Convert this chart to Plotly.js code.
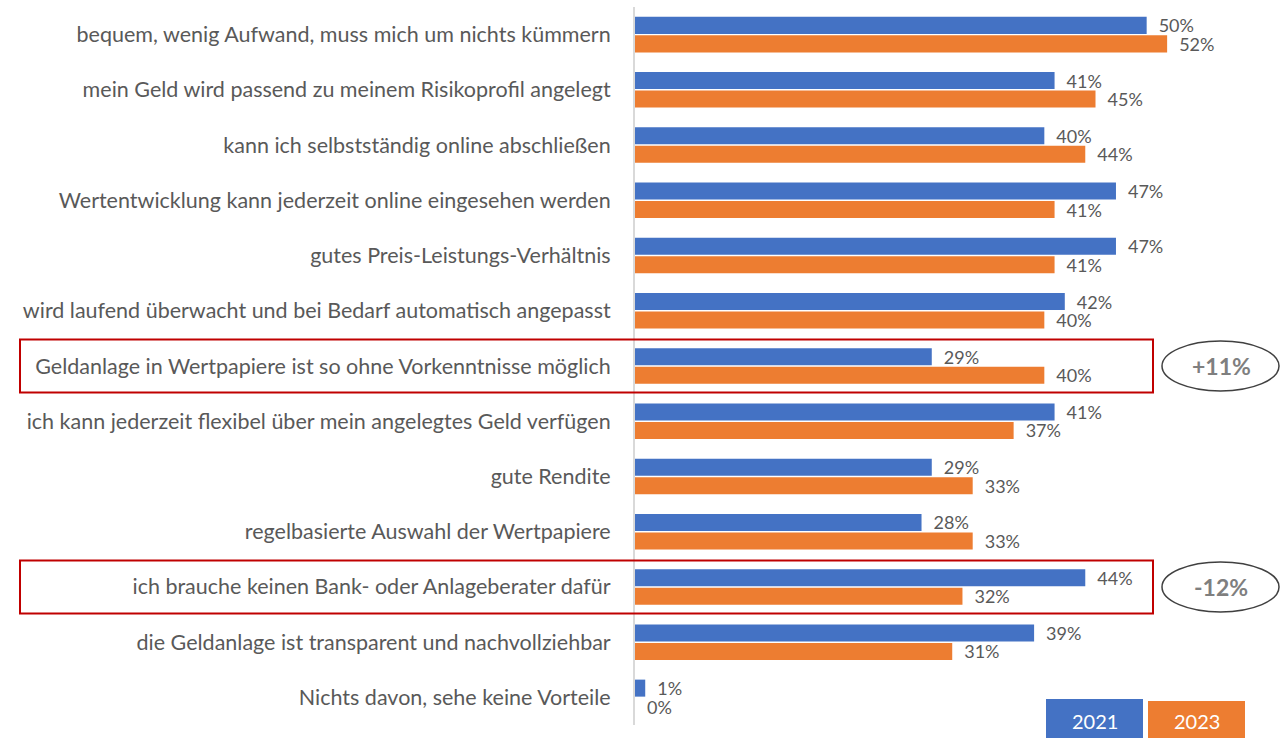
<!DOCTYPE html>
<html><head><meta charset="utf-8">
<script src="https://cdn.plot.ly/plotly-3.0.1.min.js"></script>
<style>html,body{margin:0;padding:0;background:#fff}#chart{width:1281px;height:738px}</style>
</head><body><div id="chart"></div>
<script>
const categories = [
  "bequem, wenig Aufwand, muss mich um nichts kümmern",
  "mein Geld wird passend zu meinem Risikoprofil angelegt",
  "kann ich selbstständig online abschließen",
  "Wertentwicklung kann jederzeit online eingesehen werden",
  "gutes Preis-Leistungs-Verhältnis",
  "wird laufend überwacht und bei Bedarf automatisch angepasst",
  "Geldanlage in Wertpapiere ist so ohne Vorkenntnisse möglich",
  "ich kann jederzeit flexibel über mein angelegtes Geld verfügen",
  "gute Rendite",
  "regelbasierte Auswahl der Wertpapiere",
  "ich brauche keinen Bank- oder Anlageberater dafür",
  "die Geldanlage ist transparent und nachvollziehbar",
  "Nichts davon, sehe keine Vorteile"
];
const values2021 = [50, 41, 40, 47, 47, 42, 29, 41, 29, 28, 44, 39, 1];
const values2023 = [52, 45, 44, 41, 41, 40, 40, 37, 33, 33, 32, 31, 0];
const seriesNames = ["2021", "2023"];
const highlights = [
  {row: 6, text: "+11%"},
  {row: 10, text: "-12%"}
];

const BLUE = "#4472c4", ORANGE = "#ed7d31", GREY = "#595959";
const FONT = "Lato";
const L = 635, R = 32, T = 7, B = 13, W = 1281, H = 738;
const pw = W - L - R, ph = H - T - B;
const px2paperX = p => (p - L) / pw;
const px2paperY = p => 1 - (p - T) / ph;
const rowH = ph / categories.length;

const mk = (vals, name, color) => ({
  type: "bar", orientation: "h", name: name,
  y: categories, x: vals,
  text: vals.map(v => "\u2002" + v + "%"), textposition: "outside",
  constraintext: "none",
  textfont: {family: FONT, size: 18, color: GREY},
  cliponaxis: false,
  marker: {color: color, line: {width: 0}},
  hoverinfo: "skip"
});

const shapes = [], annotations = [];
highlights.forEach(h => {
  const cy = T + rowH * (h.row + 0.5);
  shapes.push({type: "rect", xref: "paper", yref: "paper",
    x0: px2paperX(20), x1: px2paperX(1153), y0: px2paperY(cy - 26.5), y1: px2paperY(cy + 26.5),
    line: {color: "#c00000", width: 2}, fillcolor: "rgba(0,0,0,0)"});
  shapes.push({type: "circle", xref: "paper", yref: "paper",
    x0: px2paperX(1162), x1: px2paperX(1279), y0: px2paperY(cy - 25), y1: px2paperY(cy + 25),
    line: {color: "#404040", width: 1.5}, fillcolor: "rgba(0,0,0,0)"});
  annotations.push({xref: "paper", yref: "paper", x: px2paperX(1221), y: px2paperY(cy),
    xanchor: "center", yanchor: "middle",
    text: "<b>" + h.text + "</b>", showarrow: false,
    font: {family: FONT, size: 23, color: "#7f7f7f"}});
});
// legend boxes
const legendBoxes = [[1046, 1143, 699, BLUE], [1148, 1245, 701, ORANGE]];
legendBoxes.forEach((b, i) => {
  shapes.push({type: "rect", xref: "paper", yref: "paper",
    x0: px2paperX(b[0]), x1: px2paperX(b[1]), y0: px2paperY(b[2]), y1: px2paperY(740),
    line: {width: 0}, fillcolor: b[3]});
  annotations.push({xref: "paper", yref: "paper", x: px2paperX((b[0] + b[1]) / 2), y: px2paperY(721),
    xanchor: "center", yanchor: "middle",
    text: seriesNames[i], showarrow: false,
    font: {family: FONT, size: 20, color: "#ffffff"}});
});

const layout = {
  width: W, height: H,
  margin: {l: L, r: R, t: T, b: B},
  paper_bgcolor: "#fff", plot_bgcolor: "#fff",
  barmode: "group", bargap: 0.33, bargroupgap: 0.08,
  showlegend: false,
  xaxis: {range: [0, 60], visible: false, fixedrange: true},
  yaxis: {autorange: "reversed", showline: true, linecolor: "#d9d9d9", linewidth: 2,
    showgrid: false, zeroline: false, ticks: "", ticklabelstandoff: 18,
    tickfont: {family: FONT, size: 21.5, color: GREY}},
  shapes: shapes, annotations: annotations
};
Plotly.newPlot("chart", [mk(values2021, seriesNames[0], BLUE), mk(values2023, seriesNames[1], ORANGE)], layout, {displayModeBar: false, staticPlot: true});
</script></body></html>
